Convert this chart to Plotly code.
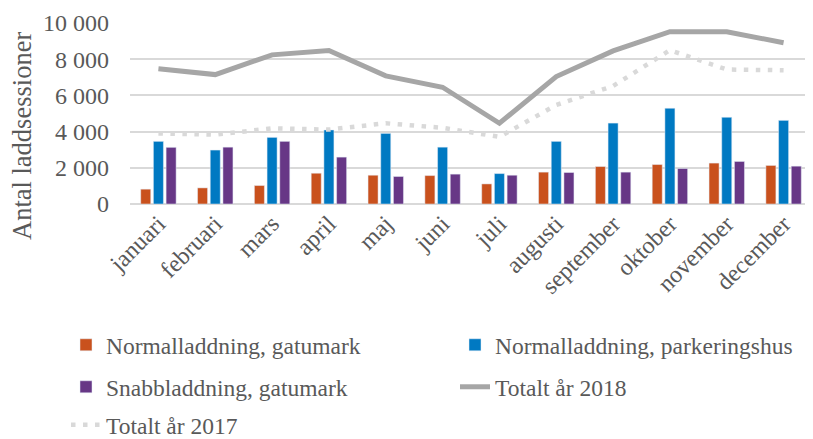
import plotly.graph_objects as go

months = ["januari", "februari", "mars", "april", "maj", "juni", "juli",
          "augusti", "september", "oktober", "november", "december"]

normal_gatumark = [820, 890, 1020, 1700, 1590, 1570, 1110, 1760, 2070, 2180, 2260, 2130]
normal_parkeringshus = [3460, 2980, 3680, 4090, 3900, 3140, 1680, 3460, 4470, 5290, 4790, 4620]
snabb_gatumark = [3130, 3140, 3460, 2590, 1520, 1650, 1590, 1740, 1760, 1960, 2350, 2090]
totalt_2018 = [7470, 7150, 8240, 8480, 7080, 6450, 4460, 7040, 8460, 9520, 9520, 8910]
totalt_2017 = [3900, 3830, 4180, 4110, 4460, 4210, 3710, 5470, 6520, 8500, 7430, 7390]

y_ticks = [0, 2000, 4000, 6000, 8000, 10000]

FONT = "Liberation Serif, Times New Roman, serif"
TXT = "#595959"
C_ORANGE = "#C9511D"
C_BLUE = "#0079C2"
C_PURPLE = "#673786"
C_2018 = "#A6A6A6"
C_2017 = "#D9D9D9"

# page body has an 8px default margin; compensate so the chart lands in place
OFF = 8
W, H = 813 - OFF, 439 - OFF
L, R, T, B = 130 - OFF, 1, 23 - OFF, 235
pw = W - L - R
ph = H - T - B


def px_x(p):
    return (p - OFF - L) / pw


def px_y(p):
    return (H - B - (p - OFF)) / ph


fig = go.Figure()
fig.add_trace(go.Bar(x=months, y=normal_gatumark, name="Normalladdning, gatumark",
                     marker=dict(color=C_ORANGE), legend="legend"))
fig.add_trace(go.Bar(x=months, y=normal_parkeringshus, name="Normalladdning, parkeringshus",
                     marker=dict(color=C_BLUE), legend="legend2"))
fig.add_trace(go.Bar(x=months, y=snabb_gatumark, name="Snabbladdning, gatumark",
                     marker=dict(color=C_PURPLE), legend="legend3"))
fig.add_trace(go.Scatter(x=months, y=totalt_2018, name="Totalt år 2018", mode="lines",
                         line=dict(color=C_2018, width=5), legend="legend4"))
fig.add_trace(go.Scatter(x=months, y=totalt_2017, name="Totalt år 2017", mode="lines",
                         line=dict(color=C_2017, width=4.5, dash="4.5px,7.5px"),
                         legend="legend5"))

leg_common = dict(orientation="h",
                  font=dict(family=FONT, size=23.5, color=TXT),
                  xanchor="left", yanchor="middle", bgcolor="rgba(0,0,0,0)",
                  itemclick=False, itemdoubleclick=False)

col1, col2 = 66, 455
row1, row2, row3 = 345, 387, 425

fig.update_layout(
    width=W, height=H,
    margin=dict(l=L, r=R, t=T, b=B, autoexpand=False),
    paper_bgcolor="white", plot_bgcolor="white",
    font=dict(family=FONT, color=TXT, size=24),
    separators=", ",
    barmode="group", bargap=0.33, bargroupgap=0.21,
    showlegend=True,
    legend=dict(x=px_x(col1), y=px_y(row1), **leg_common),
    legend2=dict(x=px_x(col2), y=px_y(row1), **leg_common),
    legend3=dict(x=px_x(col1), y=px_y(row2), **leg_common),
    legend4=dict(x=px_x(col2), y=px_y(row2), **leg_common),
    legend5=dict(x=px_x(col1), y=px_y(row3), **leg_common),
    xaxis=dict(type="category", tickangle=-45, showgrid=False, showline=False,
               ticks="", tickfont=dict(family=FONT, size=24, color=TXT),
               automargin=False),
    yaxis=dict(range=[0, 10000], tickvals=y_ticks, tickformat=",d",
               showgrid=True, gridcolor="#D9D9D9", gridwidth=1.5,
               zeroline=True, zerolinecolor="#D9D9D9", zerolinewidth=1.5,
               showline=False, ticks="", ticklabelstandoff=20,
               tickfont=dict(family=FONT, size=24, color=TXT),
               automargin=False),
    annotations=[dict(text="Antal laddsessioner", textangle=-90,
                      x=px_x(22), y=px_y(136), xref="paper", yref="paper",
                      xanchor="center", yanchor="middle", showarrow=False,
                      font=dict(family=FONT, size=26.5, color=TXT))],
)

fig.write_html("out.html")
